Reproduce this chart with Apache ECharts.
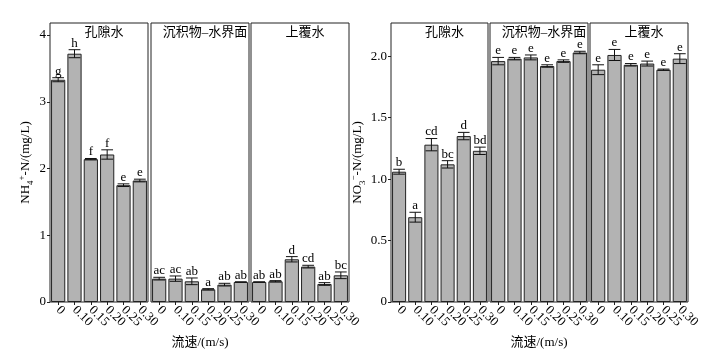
<!DOCTYPE html>
<html>
<head>
<meta charset="UTF-8">
<title>NH4+-N / NO3--N</title>
<script src="https://cdn.jsdelivr.net/npm/echarts@6/dist/echarts.min.js"></script>
<style>
html, body { margin: 0; padding: 0; background: #fff; }
#chart { width: 704px; height: 350px; }
</style>
</head>
<body>
<div id="chart"></div>
<script>
// 流速分类 和 分区
var speeds = ['0', '0.10', '0.15', '0.20', '0.25', '0.30'];
var zones = ['孔隙水', '沉积物–水界面', '上覆水'];

// NH4+-N：均值、标准误、显著性字母（每行一个分区）
var nh4Mean = [
    [3.33, 3.72, 2.14, 2.21, 1.75, 1.82],
    [0.35, 0.35, 0.31, 0.19, 0.26, 0.30],
    [0.30, 0.31, 0.64, 0.53, 0.27, 0.40]
];
var nh4Err = [
    [0.03, 0.06, 0.01, 0.07, 0.02, 0.02],
    [0.02, 0.04, 0.05, 0.01, 0.02, 0.00],
    [0.00, 0.01, 0.04, 0.02, 0.02, 0.05]
];
var nh4Sig = [
    ['g', 'h', 'f', 'f', 'e', 'e'],
    ['ac', 'ac', 'ab', 'a', 'ab', 'ab'],
    ['ab', 'ab', 'd', 'cd', 'ab', 'bc']
];

// NO3--N
var no3Mean = [
    [1.06, 0.69, 1.28, 1.12, 1.35, 1.23],
    [1.96, 1.98, 1.99, 1.92, 1.96, 2.03],
    [1.89, 2.01, 1.93, 1.94, 1.89, 1.98]
];
var no3Err = [
    [0.02, 0.04, 0.05, 0.03, 0.03, 0.03],
    [0.03, 0.01, 0.02, 0.01, 0.01, 0.01],
    [0.04, 0.045, 0.01, 0.02, 0.005, 0.04]
];
var no3Sig = [
    ['b', 'a', 'cd', 'bc', 'd', 'bd'],
    ['e', 'e', 'e', 'e', 'e', 'e'],
    ['e', 'e', 'e', 'e', 'e', 'e']
];

var nh4Ticks = [0, 1, 2, 3, 4];
var no3Ticks = [0, 0.5, 1, 1.5, 2];

var FONT = "'Liberation Serif', 'Times New Roman', 'Noto Sans CJK SC', serif";
var gridLefts = [50, 151, 251, 391, 490, 590];
var gridWidths = [98, 98, 98, 97, 98, 98];

var grids = [], xAxes = [], yAxes = [], series = [], titles = [];

function errorSeries(idx, means, errs, sigs) {
    return {
        type: 'custom',
        xAxisIndex: idx,
        yAxisIndex: idx,
        z: 5,
        silent: true,
        data: means.map(function (m, i) { return [i, m - errs[i], m + errs[i]]; }),
        renderItem: function (params, api) {
            var i = api.value(0);
            var lo = api.coord([i, api.value(1)]);
            var hi = api.coord([i, api.value(2)]);
            var half = api.size([1, 0])[0] * 0.36;
            var st = { stroke: '#111', lineWidth: 1 };
            return {
                type: 'group',
                children: [
                    { type: 'line', shape: { x1: lo[0], y1: hi[1], x2: lo[0], y2: lo[1] }, style: st },
                    { type: 'line', shape: { x1: lo[0] - half, y1: hi[1], x2: lo[0] + half, y2: hi[1] }, style: st },
                    { type: 'line', shape: { x1: lo[0] - half, y1: lo[1], x2: lo[0] + half, y2: lo[1] }, style: st },
                    {
                        type: 'text', x: lo[0], y: hi[1],
                        style: {
                            text: sigs[params.dataIndex], textAlign: 'center', textVerticalAlign: 'bottom',
                            fontFamily: FONT, fontSize: 13, fill: '#000'
                        }
                    }
                ]
            };
        }
    };
}

function addFacet(k) {
    var panel = k < 3 ? 0 : 1;
    var z = k % 3;
    var means = panel === 0 ? nh4Mean[z] : no3Mean[z];
    var errs = panel === 0 ? nh4Err[z] : no3Err[z];
    var sigs = panel === 0 ? nh4Sig[z] : no3Sig[z];
    var ticks = panel === 0 ? nh4Ticks : no3Ticks;

    grids.push({
        left: gridLefts[k], width: gridWidths[k], top: 23, height: 279,
        containLabel: false, outerBoundsMode: 'none',
        show: true, borderColor: '#222', borderWidth: 1, backgroundColor: 'transparent'
    });

    var xa = {
        type: 'category', gridIndex: k, data: speeds,
        axisLine: { show: false },
        axisTick: { show: true, alignWithLabel: true, length: 3, lineStyle: { color: '#222' } },
        axisLabel: { interval: 0, rotate: -45, margin: 6, fontFamily: FONT, fontSize: 13, color: '#000', hideOverlap: false }
    };
    if (z === 1) {
        xa.name = '流速/(m/s)';
        xa.nameLocation = 'middle';
        xa.nameGap = 31;
        xa.nameTextStyle = { fontFamily: FONT, fontSize: 13, color: '#000' };
    }
    xAxes.push(xa);

    var ya = {
        type: 'value', gridIndex: k, min: 0,
        max: panel === 0 ? 4.18 : 2.27,
        splitLine: { show: false },
        axisLine: { show: false },
        axisTick: { show: z === 0, length: 3, customValues: ticks, lineStyle: { color: '#222' } },
        axisLabel: {
            show: z === 0, margin: 4, fontFamily: FONT, fontSize: 13, color: '#000',
            customValues: ticks,
            formatter: function (v) { return panel === 0 || v === 0 ? String(v) : v.toFixed(1); }
        }
    };
    if (z === 0) {
        ya.name = panel === 0 ? '{b|NH}{s|4}{p|+}{b|-N/(mg/L)}' : '{b|NO}{s|3}{p|−}{b|-N/(mg/L)}';
        ya.nameLocation = 'middle';
        ya.nameGap = panel === 0 ? 15 : 20;
        ya.nameTextStyle = {
            fontFamily: FONT, fontSize: 13, color: '#000',
            rich: {
                b: { fontFamily: FONT, fontSize: 13, lineHeight: 18, verticalAlign: 'middle' },
                s: { fontFamily: FONT, fontSize: 9, lineHeight: 18, verticalAlign: 'bottom' },
                p: { fontFamily: FONT, fontSize: 9, lineHeight: 18, verticalAlign: 'top' }
            }
        };
    }
    yAxes.push(ya);

    titles.push({
        text: zones[z], left: gridLefts[k] + gridWidths[k] / 2, top: 21, textAlign: 'center',
        textStyle: { fontFamily: FONT, fontSize: 13, fontWeight: 'normal', color: '#000' }
    });

    series.push({
        type: 'bar', xAxisIndex: k, yAxisIndex: k, data: means, barWidth: '87%',
        itemStyle: { color: '#b3b3b3', borderColor: '#222', borderWidth: 1 },
        silent: true
    });
    series.push(errorSeries(k, means, errs, sigs));
}

for (var k = 0; k < 6; k++) addFacet(k);

var chart = echarts.init(document.getElementById('chart'));
chart.setOption({
    animation: false,
    backgroundColor: '#fff',
    title: titles,
    grid: grids,
    xAxis: xAxes,
    yAxis: yAxes,
    series: series
});
</script>
</body>
</html>
